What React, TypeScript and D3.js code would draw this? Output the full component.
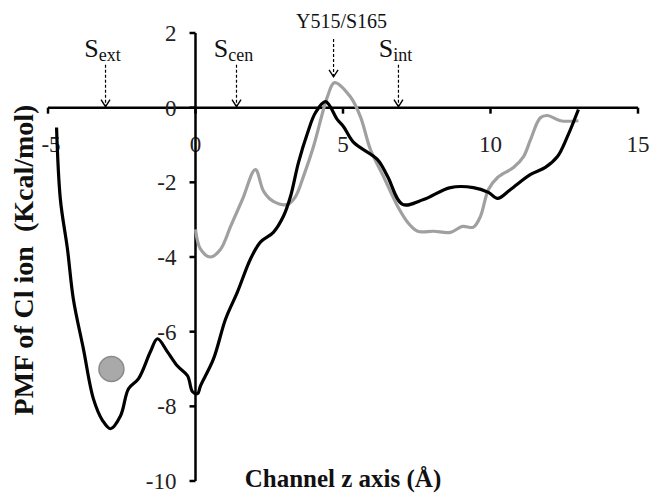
import React from "react";
import * as d3 from "d3";

// PMF traces (z in Å, energy in kcal/mol)
const blackZ = [-4.71, -4.58, -4.34, -4.14, -3.8, -3.46, -3.15, -2.88, -2.54, -2.27, -1.93, -1.53, -1.29, -0.95, -0.61, -0.27, -0.1, 0.07, 0.17, 0.61, 1.02, 1.42, 1.86, 2.2, 2.64, 2.98, 3.22, 3.49, 3.8, 4.07, 4.41, 4.81, 5.02, 5.36, 6.17, 6.51, 7.02, 7.73, 8.64, 9.42, 9.93, 10.24, 10.68, 11.36, 11.86, 12.27, 12.61, 12.98];
const blackE = [-0.53, -2.46, -3.79, -5.13, -6.46, -7.8, -8.38, -8.6, -8.25, -7.53, -7.26, -6.54, -6.19, -6.54, -6.92, -7.18, -7.61, -7.66, -7.45, -6.73, -5.66, -4.94, -4.06, -3.6, -3.34, -2.91, -2.38, -1.47, -0.67, -0.13, 0.16, -0.32, -0.51, -0.93, -1.39, -1.84, -2.59, -2.46, -2.14, -2.14, -2.27, -2.43, -2.19, -1.79, -1.6, -1.31, -0.77, -0.05];

const greyZ = [0.0, 0.17, 0.51, 0.85, 1.19, 1.59, 2.03, 2.31, 2.64, 3.12, 3.39, 3.66, 4.0, 4.31, 4.47, 4.71, 5.25, 5.59, 5.93, 6.37, 6.85, 7.19, 7.53, 8.07, 8.64, 9.05, 9.42, 9.66, 9.93, 10.24, 10.78, 11.12, 11.36, 11.69, 11.93, 12.37, 12.98];
const greyE = [-3.26, -3.79, -4.0, -3.79, -3.18, -2.46, -1.66, -2.24, -2.51, -2.59, -2.38, -1.84, -1.04, -0.13, 0.29, 0.67, 0.29, -0.24, -1.12, -1.84, -2.64, -3.07, -3.31, -3.31, -3.34, -3.18, -3.2, -2.91, -2.19, -1.87, -1.6, -1.31, -0.85, -0.27, -0.21, -0.35, -0.35];

const xTicks = [-5, 0, 5, 10, 15];
const yTicks = [2, 0, -2, -4, -6, -8, -10];

// site markers: label, subscript, z, arrow top / bottom energy
const siteNames = ["S", "S", "Y515/S165", "S"];
const siteSubs = ["ext", "cen", "", "int"];
const siteZ = [-3.05, 1.39, 4.68, 6.88];
const siteTop = [1.15, 1.15, 1.84, 1.15];
const siteBottom = [0, 0, 0.8, 0];

// grey ion marker
const ionZ = -2.85;
const ionE = -7.0;

const FONT = "'Liberation Serif', 'Times New Roman', serif";

export default function App() {
  const x = d3.scaleLinear().domain([-5, 15]).range([48, 638]);
  const y = d3.scaleLinear().domain([-10, 2]).range([481, 33]);

  const line = d3
    .line<[number, number]>()
    .x((d) => x(d[0]))
    .y((d) => y(d[1]))
    .curve(d3.curveCatmullRom.alpha(0.5));

  const black = blackZ.map((z, i) => [z, blackE[i]] as [number, number]);
  const grey = greyZ.map((z, i) => [z, greyE[i]] as [number, number]);

  return (
    <svg
      width={650}
      height={494}
      style={{ position: "absolute", left: 0, top: 0, background: "#fff" }}
      fontFamily={FONT}
    >
      {/* x axis */}
      <line x1={x(-5)} x2={x(15)} y1={y(0)} y2={y(0)} stroke="#000" strokeWidth={2.5} />
      {xTicks.map((t) => (
        <g key={"xt" + t}>
          <line x1={x(t)} x2={x(t)} y1={y(0)} y2={y(0) + 6} stroke="#000" strokeWidth={2.5} />
          <text x={x(t) + (t < 0 ? 3 : 0)} y={y(0) + 44} fontSize={23} textAnchor="middle" fill="#222">
            {t}
          </text>
        </g>
      ))}

      {/* y axis */}
      <line x1={x(0)} x2={x(0)} y1={y(2)} y2={y(-10)} stroke="#000" strokeWidth={2.5} />
      {yTicks.map((t) => (
        <g key={"yt" + t}>
          <line x1={x(0) - 6} x2={x(0)} y1={y(t)} y2={y(t)} stroke="#000" strokeWidth={2.5} />
          <text x={x(0) - 19} y={y(t)} dy="0.35em" fontSize={23} textAnchor="end" fill="#222">
            {t}
          </text>
        </g>
      ))}

      {/* curves */}
      <path d={line(grey) || ""} fill="none" stroke="#a0a0a0" strokeWidth={3.2} />
      <path d={line(black) || ""} fill="none" stroke="#000" strokeWidth={3.2} />

      {/* ion */}
      <circle cx={x(ionZ)} cy={y(ionE)} r={12.5} fill="#a9a9a9" stroke="#8a8a8a" strokeWidth={1.5} />

      {/* site arrows and labels */}
      {siteNames.map((name, i) => {
        const cx = x(siteZ[i]);
        const top = y(siteTop[i]);
        const bot = y(siteBottom[i]) - 1;
        const sub = siteSubs[i];
        return (
          <g key={"site" + i}>
            <line x1={cx} x2={cx} y1={top} y2={bot} stroke="#000" strokeWidth={1.2} strokeDasharray="3,2" />
            <path
              d={`M${cx - 4.5},${bot - 7} L${cx},${bot} L${cx + 4.5},${bot - 7}`}
              fill="none"
              stroke="#000"
              strokeWidth={1.4}
            />
            {sub ? (
              <text x={cx - 3} y={top - 8} fontSize={26} textAnchor="middle" fill="#111">
                {name}
                <tspan fontSize={18} dy={4}>
                  {sub}
                </tspan>
              </text>
            ) : (
              <text x={cx + 8} y={top - 11} fontSize={20} textAnchor="middle" fill="#111">
                {name}
              </text>
            )}
          </g>
        );
      })}

      {/* axis titles */}
      <text x={x(5)} y={487} fontSize={25} fontWeight="bold" textAnchor="middle" fill="#111">
        Channel z axis (Å)
      </text>
      <text
        transform={`translate(33,${260}) rotate(-90)`}
        fontSize={28}
        fontWeight="bold"
        textAnchor="middle"
        fill="#111"
        style={{ whiteSpace: "pre" }}
      >
        {"PMF of Cl ion  (Kcal/mol)"}
      </text>
    </svg>
  );
}
